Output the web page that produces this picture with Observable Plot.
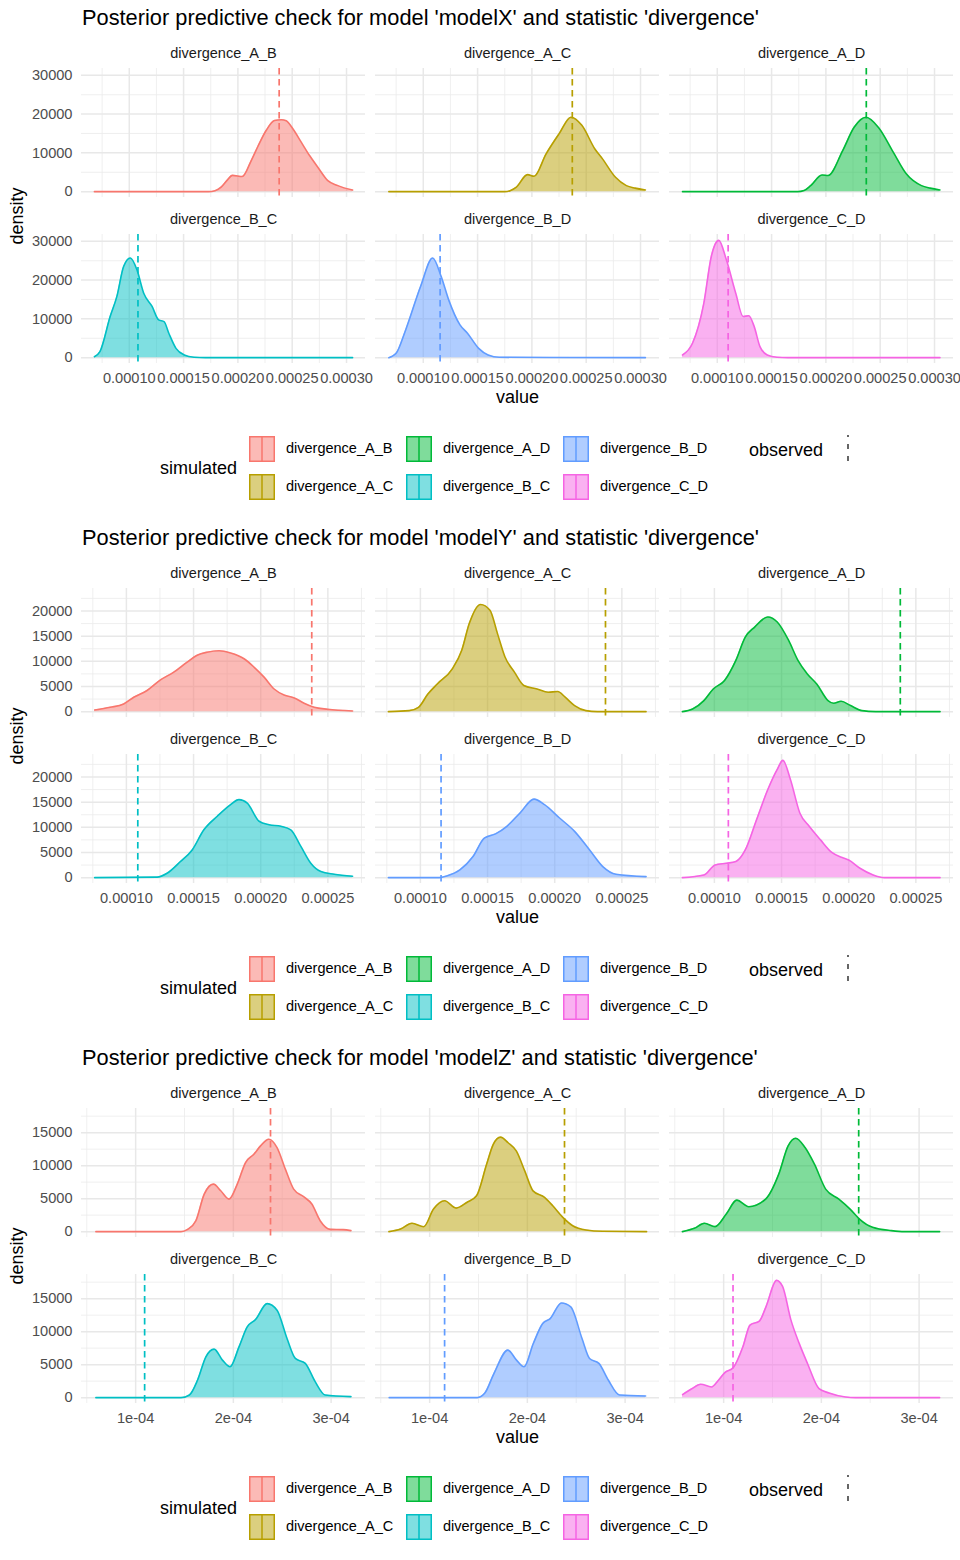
<!DOCTYPE html>
<html><head><meta charset="utf-8">
<script src="https://cdn.jsdelivr.net/npm/d3@7"></script>
<script src="https://cdn.jsdelivr.net/npm/@observablehq/plot@0.6"></script>
<style>
body{margin:0;background:#fff;font-family:"Liberation Sans",Arial,Helvetica,sans-serif;}
#root{width:960px;}
.block{position:relative;width:960px;height:520px;overflow:hidden;}
.block svg{position:absolute;left:0;}
.title{position:absolute;left:82px;top:7.3px;font-size:21.8px;line-height:21.8px;color:#000;white-space:nowrap;}
.xlab{position:absolute;left:467.5px;width:100px;text-align:center;top:387.8px;font-size:18px;line-height:18px;color:#000;}
.ylab{position:absolute;left:-33.5px;width:100px;text-align:center;top:206.5px;font-size:18px;line-height:18px;color:#000;transform:rotate(-90deg);}
</style></head><body><div id="root"></div>
<script>
const FONT = '"Liberation Sans", Arial, Helvetica, sans-serif';
const series = ["divergence_A_B","divergence_A_C","divergence_A_D","divergence_B_C","divergence_B_D","divergence_C_D"];
const colors = ["#F8766D","#B79F00","#00BA38","#00BFC4","#619CFF","#F564E3"];
const facetCol = [0,1,2,0,1,2];
const facetRow = [0,0,0,1,1,1];
const models = ["modelX","modelY","modelZ"];

// value positions in units of 1e-5, densities as read
// ---- modelX ----
const xX_AB = [6.79,17.3,17.9,18.43,19.0,19.5,20.4,21.23,21.84,22.6,23.37,24.0,24.45,25.06,25.83,26.6,27.36,28.28,29.2,30.56];
const dX_AB = [0,0,250,1100,2900,4200,3900,8020,11640,15770,18360,18560,18270,16200,12760,9310,6290,2840,1550,400];
const xX_AC = [6.83,17.5,18.0,18.55,19.6,20.2,21.3,22.5,23.6,24.6,25.8,26.5,27.7,28.7,29.5,30.45];
const dX_AC = [0,0,250,1100,4400,3950,9700,14900,19200,17100,11000,8450,3700,1550,900,430];
const xX_AD = [6.8,17.4,18.0,18.6,19.65,20.2,21.55,22.6,23.7,24.86,26.2,27.4,28.8,29.6,30.5];
const dX_AD = [0,0,300,1550,4300,4150,10600,16600,19200,16500,10200,4600,1550,900,430];
const xX_BC = [6.79,7.3,8.24,8.86,9.48,10.1,10.7,11.33,12.1,12.7,13.2,13.64,14.3,15.06,15.96,17.0,30.56];
const dX_BC = [250,1550,10600,15800,23500,25700,22700,16600,13200,9750,9300,6300,2400,690,90,0,0];
const xX_BD = [6.83,7.1,7.5,8.38,9.76,10.86,11.65,12.34,13.38,14.07,15.1,15.97,17.0,30.45];
const dX_BD = [0,300,1100,7150,18400,25700,20900,14900,8450,6300,2400,690,90,0];
const xX_CD = [6.8,7.72,8.76,9.45,10.14,10.83,11.7,12.38,12.9,13.4,13.93,14.6,15.5,16.5,30.5];
const dX_CD = [690,3700,14000,26100,30250,25300,16600,10600,10800,8000,2850,690,90,0,0];
const obsX = [23.8,23.72,23.72,10.8,11.55,11.0];

// ---- modelY ----
const xY_AB = [7.64,8.8,9.8,10.55,11.54,12.54,13.53,14.53,15.27,16.0,16.9,17.76,18.76,19.5,20.25,21.0,21.74,22.5,23.23,23.98,24.98,26.84];
const dY_AB = [330,860,1530,2860,4200,6300,7850,9850,11200,11800,12100,11650,10500,8850,6850,4500,3300,2730,1660,860,470,130];
const xY_AC = [7.62,9.16,9.86,10.56,11.26,12.38,13.08,13.64,14.48,15.18,15.74,16.3,17.0,17.7,18.68,19.52,20.22,20.78,21.48,22.32,23.17,26.8];
const dY_AC = [0,200,860,3500,5500,8500,12200,17500,21300,20150,15500,10850,7850,5200,4500,3850,4000,2860,1200,200,0,0];
const xY_AD = [7.62,8.38,9.22,9.92,10.76,11.6,12.3,13.0,13.98,14.68,15.52,16.22,16.92,17.62,18.46,18.88,19.44,20.14,20.98,22.0,26.8];
const dY_AD = [0,530,2200,4500,6200,10200,14800,16800,18800,17800,14200,10200,7500,5500,2200,1660,2060,1200,200,0,0];
const xY_BC = [7.64,12.29,13.03,14.03,14.9,15.77,16.77,17.76,18.38,19.0,19.88,20.62,21.5,22.24,22.99,23.73,24.48,25.47,26.84];
const dY_BC = [0,100,860,3200,5500,9500,12200,14500,15500,14800,11200,10500,10200,9500,6200,2860,1200,670,270];
const xY_BD = [7.62,11.4,11.96,12.94,13.92,14.76,15.6,16.44,17.42,18.46,19.24,20.36,21.48,22.6,23.58,24.56,26.8];
const dY_BD = [0,0,330,1530,4200,7850,8700,10200,12850,15600,14500,11850,9200,5500,2200,670,200];
const xY_CD = [7.62,9.22,10.06,10.9,11.6,12.3,13.14,13.98,14.68,15.1,15.66,16.36,17.06,17.9,18.74,19.6,20.0,20.84,21.82,22.66,26.8];
const dY_CD = [0,530,2530,2860,3200,5500,11500,17500,21500,23300,19500,12850,10200,7500,5000,3900,3500,1860,530,0,0];
const obsY = [23.8,23.78,23.84,10.85,11.54,11.04];

// ---- modelZ ----
const xZ_AB = [5.93,14.64,15.32,16.17,17.02,17.97,18.71,19.56,20.4,21.25,22.1,22.78,23.63,24.47,25.32,26.17,27.19,28.03,28.88,29.9,31.25,32.03];
const dZ_AB = [0,0,350,1660,5690,7200,6190,4930,7200,10470,11730,12990,14000,12740,9470,6440,5290,4180,1660,350,300,150];
const xZ_AC = [5.83,7.02,8.2,9.39,10.4,11.53,12.71,13.8,14.8,15.83,16.5,17.25,18.03,18.88,19.73,20.58,21.76,22.6,23.63,24.64,26.0,27.7,32.2];
const dZ_AC = [0,400,1260,750,3420,4670,3570,4420,5430,10200,13200,14320,13470,12200,9200,6180,5180,3920,2160,900,250,50,0];
const xZ_AD = [5.78,7.0,8.04,9.12,10.27,11.34,12.57,14.3,15.64,16.6,17.37,18.33,19.29,20.44,21.79,22.94,23.9,25.24,27.16,28.5,32.1];
const dZ_AD = [0,500,1260,755,2670,4780,3780,4930,8710,12990,14150,12740,10220,6440,4930,3420,1910,650,150,0,0];
const xZ_BC = [5.93,14.64,15.5,16.34,17.19,18.03,18.88,19.66,20.58,21.42,22.27,23.46,24.47,25.49,26.34,27.36,28.37,29.39,32.03];
const dZ_BC = [0,0,400,2670,6190,7350,5690,4680,7700,10720,11830,14250,13240,8960,5940,5190,2420,400,150];
const xZ_BD = [5.86,14.87,15.63,16.59,18.0,18.89,19.66,20.61,21.57,22.34,23.49,24.44,25.59,26.36,27.32,28.28,29.43,32.1];
const dZ_BD = [0,0,650,3680,7200,5690,4680,8210,11230,11980,14350,13750,8960,5940,5190,2670,400,250];
const xZ_CD = [5.8,6.7,7.66,8.75,9.45,10.1,11.0,11.97,12.7,13.66,14.34,15.42,16.03,16.88,17.73,18.58,19.76,20.78,22.47,23.5,32.1];
const dZ_CD = [460,1300,2030,1620,2600,3760,4570,7700,11000,11600,13800,17770,16850,11780,8220,5180,1370,710,100,0,0];
const obsZ = [23.8,23.8,23.82,10.92,11.53,10.96];

// axis ticks (x in units of 1e-5)
const xMajorXY = [10,15,20,25,30];
const xMinorXY = [7.5,12.5,17.5,22.5,27.5];
const xMajorZ = [10,20,30];
const xMinorZ = [5,15,25];
const yMajorX = [0,10000,20000,30000];
const yMinorX = [5000,15000,25000];
const yMajorY = [0,5000,10000,15000,20000];
const yMinorY = [2500,7500,12500,17500,22500];
const yMajorZ = [0,5000,10000,15000];
const yMinorZ = [2500,7500,12500,17500];

const fmtFixed = v => (v * 1e-5).toFixed(5);
const fmtSci = v => Math.round(v / 10) + "e-04";

const blocks = [
  {model: models[0], xs: [xX_AB,xX_AC,xX_AD,xX_BC,xX_BD,xX_CD], ds: [dX_AB,dX_AC,dX_AD,dX_BC,dX_BD,dX_CD], obs: obsX,
   xMajor: xMajorXY, xMinor: xMinorXY, xFmt: fmtFixed, yMajor: yMajorX, yMinor: yMinorX},
  {model: models[1], xs: [xY_AB,xY_AC,xY_AD,xY_BC,xY_BD,xY_CD], ds: [dY_AB,dY_AC,dY_AD,dY_BC,dY_BD,dY_CD], obs: obsY,
   xMajor: xMajorXY, xMinor: xMinorXY, xFmt: fmtFixed, yMajor: yMajorY, yMinor: yMinorY},
  {model: models[2], xs: [xZ_AB,xZ_AC,xZ_AD,xZ_BC,xZ_BD,xZ_CD], ds: [dZ_AB,dZ_AC,dZ_AD,dZ_BC,dZ_BD,dZ_CD], obs: obsZ,
   xMajor: xMajorZ, xMinor: xMinorZ, xFmt: fmtSci, yMajor: yMajorZ, yMinor: yMinorZ}
];

const root = document.getElementById("root");
const PH = 420;

blocks.forEach(b => {
  const pts = [];
  series.forEach((s, i) => {
    b.xs[i].forEach((x, j) => pts.push({series: s, col: facetCol[i], row: facetRow[i], x, d: b.ds[i][j]}));
  });
  const obs = series.map((s, i) => ({series: s, col: facetCol[i], row: facetRow[i], x: b.obs[i]}));
  const strips = series.map((s, i) => ({series: s, col: facetCol[i], row: facetRow[i]}));
  const allX = pts.map(p => p.x).concat(b.obs);
  const x0 = d3.min(allX), x1 = d3.max(allX);
  const dMax = d3.max(pts, p => p.d);
  const xDomain = [x0 - 0.05 * (x1 - x0), x1 + 0.05 * (x1 - x0)];
  const yDomain = [-0.05 * dMax, dMax * 1.05];
  const inX = v => v >= xDomain[0] && v <= xDomain[1];
  const inY = v => v >= yDomain[0] && v <= yDomain[1];
  const xMajor = b.xMajor.filter(inX), xMinor = b.xMinor.filter(inX);
  const yMajor = b.yMajor.filter(inY), yMinor = b.yMinor.filter(inY);

  const div = document.createElement("div");
  div.className = "block";
  const title = document.createElement("div");
  title.className = "title";
  title.textContent = `Posterior predictive check for model '${b.model}' and statistic 'divergence'`;
  div.appendChild(title);

  const plot = Plot.plot({
    width: 960, height: PH,
    marginLeft: 81, marginRight: 6, marginTop: 67.7, marginBottom: PH - 363.3,
    style: {fontFamily: FONT, fontSize: "14.6px", color: "#4d4d4d", background: "transparent", overflow: "visible"},
    fx: {domain: [0,1,2], paddingInner: 0.034, paddingOuter: 0, axis: null},
    fy: {domain: [0,1], paddingInner: 0.2257, paddingOuter: 0, axis: null},
    x: {domain: xDomain, ticks: xMajor, tickFormat: b.xFmt, tickSize: 0, tickPadding: 9, label: null},
    y: {domain: yDomain, ticks: yMajor, tickFormat: d3.format("d"), tickSize: 0, tickPadding: 9, label: null},
    color: {domain: series, range: colors},
    marks: [
      Plot.ruleX(xMinor, {stroke: "#ebebeb", strokeWidth: 0.8}),
      Plot.ruleY(yMinor, {stroke: "#ebebeb", strokeWidth: 0.8}),
      Plot.ruleX(xMajor, {stroke: "#e8e8e8", strokeWidth: 1.5}),
      Plot.ruleY(yMajor, {stroke: "#e8e8e8", strokeWidth: 1.5}),
      Plot.areaY(pts, {x: "x", y: "d", fx: "col", fy: "row", z: "series", fill: "series", fillOpacity: 0.5, curve: "monotone-x"}),
      Plot.lineY(pts, {x: "x", y: "d", fx: "col", fy: "row", z: "series", stroke: "series", strokeWidth: 1.6, curve: "monotone-x"}),
      Plot.ruleX(obs, {x: "x", fx: "col", fy: "row", stroke: "series", strokeWidth: 1.7, strokeDasharray: "6.5,4.5"}),
      Plot.text(strips, {fx: "col", fy: "row", text: "series", frameAnchor: "top", lineAnchor: "middle", dy: -14.7, fill: "#1a1a1a", fontSize: 14.5})
    ]
  });
  plot.style.top = "0px";
  div.appendChild(plot);

  const xl = document.createElement("div"); xl.className = "xlab"; xl.textContent = "value"; div.appendChild(xl);
  const yl = document.createElement("div"); yl.className = "ylab"; yl.textContent = "density"; div.appendChild(yl);

  // legend
  const LT = 420;
  const leg = d3.create("svg").attr("width", 960).attr("height", 100)
    .style("top", LT + "px").style("font-family", FONT);
  leg.append("text").attr("x", 160).attr("y", 468 - LT).attr("dy", "0.36em")
    .attr("font-size", 18).attr("fill", "#000").text("simulated");
  const keyX = [249, 406, 563], keyY = [436, 474];
  series.forEach((s, i) => {
    const c = Math.floor(i / 2), r = i % 2;
    const kx = keyX[c], ky = keyY[r] - LT;
    leg.append("rect").attr("x", kx + 0.75).attr("y", ky + 0.75).attr("width", 24.5).attr("height", 24.5)
      .attr("fill", colors[i]).attr("fill-opacity", 0.5).attr("stroke", colors[i]).attr("stroke-width", 1.5);
    leg.append("line").attr("x1", kx + 13).attr("x2", kx + 13).attr("y1", ky + 0.75).attr("y2", ky + 25.25)
      .attr("stroke", colors[i]).attr("stroke-width", 1.5);
    leg.append("text").attr("x", kx + 37).attr("y", ky + 13).attr("dy", "0.27em")
      .attr("font-size", 14.5).attr("fill", "#000").text(s);
  });
  leg.append("text").attr("x", 749).attr("y", 450 - LT).attr("dy", "0.36em")
    .attr("font-size", 18).attr("fill", "#000").text("observed");
  leg.append("line").attr("x1", 848).attr("x2", 848).attr("y1", 435 - LT).attr("y2", 463 - LT)
    .attr("stroke", "#000").attr("stroke-width", 1.2).attr("stroke-dasharray", "5,7").attr("stroke-dashoffset", 3);
  div.appendChild(leg.node());

  root.appendChild(div);
});
</script></body></html>
